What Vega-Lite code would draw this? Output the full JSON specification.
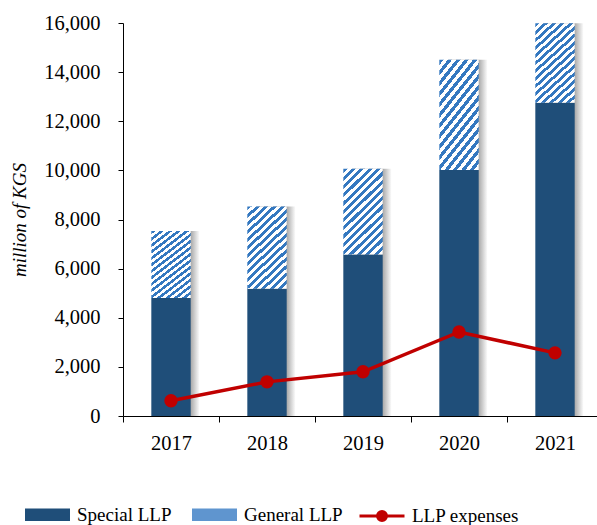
{
  "$schema": "https://vega.github.io/schema/vega-lite/v6.json",
  "width": 480,
  "height": 393,
  "autosize": {"type": "none"},
  "padding": {"left": 123, "top": 23, "right": -6, "bottom": 109},
  "background": "#ffffff",
  "config": {
    "view": {"stroke": null},
    "font": "Liberation Serif",
    "style": {"guide-label": {"font": "Liberation Serif"}, "guide-title": {"font": "Liberation Serif"}},
    "axis": {"labelFont": "Liberation Serif", "titleFont": "Liberation Serif", "labelColor": "#000000", "titleColor": "#000000", "domainColor": "#000000", "tickColor": "#000000", "grid": false},
    "legend": {"labelFont": "Liberation Serif", "labelColor": "#000000", "labelFontSize": 19}
  },
  "data": {
    "values": [
      {"year": 2017, "series": "Special LLP", "value": 4800},
      {"year": 2017, "series": "General LLP", "value": 2730},
      {"year": 2017, "series": "LLP expenses", "value": 620},
      {"year": 2018, "series": "Special LLP", "value": 5180},
      {"year": 2018, "series": "General LLP", "value": 3350},
      {"year": 2018, "series": "LLP expenses", "value": 1390},
      {"year": 2019, "series": "Special LLP", "value": 6580},
      {"year": 2019, "series": "General LLP", "value": 3490},
      {"year": 2019, "series": "LLP expenses", "value": 1800},
      {"year": 2020, "series": "Special LLP", "value": 10020},
      {"year": 2020, "series": "General LLP", "value": 4480},
      {"year": 2020, "series": "LLP expenses", "value": 3420},
      {"year": 2021, "series": "Special LLP", "value": 12750},
      {"year": 2021, "series": "General LLP", "value": 3240},
      {"year": 2021, "series": "LLP expenses", "value": 2570}
    ]
  },
  "encoding": {
    "x": {
      "field": "year", "type": "ordinal",
      "scale": {"paddingInner": 0, "paddingOuter": 0},
      "axis": {"title": null, "labelAngle": 0, "labelFontSize": 20.5, "labelPadding": 11, "tickBand": "extent", "tickSize": 6, "domainWidth": 1, "tickWidth": 1}
    }
  },
  "layer": [
    {
      "transform": [{"filter": "datum.series !== 'LLP expenses'"}],
      "mark": {
        "type": "bar", "width": {"band": 0.41}, "xOffset": 9,
        "fill": {"gradient": "linear", "x1": 0, "y1": 0, "x2": 1, "y2": 0,
          "stops": [{"offset": 0, "color": "#999999"}, {"offset": 0.77, "color": "#a8a8a8"}, {"offset": 1, "color": "#ffffff"}]}
      },
      "encoding": {
        "y": {"aggregate": "sum", "field": "value", "type": "quantitative", "scale": {"domain": [0, 16000], "nice": false},
          "axis": {"title": "million of KGS", "titleFontStyle": "italic", "titleFontWeight": "normal", "titleFontSize": 19, "titlePadding": 14,
            "values": [0, 2000, 4000, 6000, 8000, 10000, 12000, 14000, 16000], "format": ",.0f", "labelFontSize": 20.5, "labelPadding": 18, "tickSize": 5}}
      }
    },
    {
      "transform": [{"filter": "datum.series !== 'LLP expenses'"}],
      "mark": {"type": "bar", "width": {"band": 0.41}},
      "encoding": {
        "y": {"field": "value", "type": "quantitative", "stack": "zero"},
        "order": {"field": "series", "sort": "descending"},
        "fill": {
          "field": "series", "type": "nominal",
          "condition": {"test": "datum.series === 'General LLP'", "value": {"gradient": "linear", "x1": 0, "y1": 0, "x2": 0.54, "y2": 1.2,
            "stops": [
              {"offset": 0, "color": "#3478c0"}, {"offset": 0.0333, "color": "#3478c0"}, {"offset": 0.0333, "color": "#ffffff"}, {"offset": 0.0667, "color": "#ffffff"},
              {"offset": 0.0667, "color": "#3478c0"}, {"offset": 0.1, "color": "#3478c0"}, {"offset": 0.1, "color": "#ffffff"}, {"offset": 0.1333, "color": "#ffffff"},
              {"offset": 0.1333, "color": "#3478c0"}, {"offset": 0.1667, "color": "#3478c0"}, {"offset": 0.1667, "color": "#ffffff"}, {"offset": 0.2, "color": "#ffffff"},
              {"offset": 0.2, "color": "#3478c0"}, {"offset": 0.2333, "color": "#3478c0"}, {"offset": 0.2333, "color": "#ffffff"}, {"offset": 0.2667, "color": "#ffffff"},
              {"offset": 0.2667, "color": "#3478c0"}, {"offset": 0.3, "color": "#3478c0"}, {"offset": 0.3, "color": "#ffffff"}, {"offset": 0.3333, "color": "#ffffff"},
              {"offset": 0.3333, "color": "#3478c0"}, {"offset": 0.3667, "color": "#3478c0"}, {"offset": 0.3667, "color": "#ffffff"}, {"offset": 0.4, "color": "#ffffff"},
              {"offset": 0.4, "color": "#3478c0"}, {"offset": 0.4333, "color": "#3478c0"}, {"offset": 0.4333, "color": "#ffffff"}, {"offset": 0.4667, "color": "#ffffff"},
              {"offset": 0.4667, "color": "#3478c0"}, {"offset": 0.5, "color": "#3478c0"}, {"offset": 0.5, "color": "#ffffff"}, {"offset": 0.5333, "color": "#ffffff"},
              {"offset": 0.5333, "color": "#3478c0"}, {"offset": 0.5667, "color": "#3478c0"}, {"offset": 0.5667, "color": "#ffffff"}, {"offset": 0.6, "color": "#ffffff"},
              {"offset": 0.6, "color": "#3478c0"}, {"offset": 0.6333, "color": "#3478c0"}, {"offset": 0.6333, "color": "#ffffff"}, {"offset": 0.6667, "color": "#ffffff"},
              {"offset": 0.6667, "color": "#3478c0"}, {"offset": 0.7, "color": "#3478c0"}, {"offset": 0.7, "color": "#ffffff"}, {"offset": 0.7333, "color": "#ffffff"},
              {"offset": 0.7333, "color": "#3478c0"}, {"offset": 0.7667, "color": "#3478c0"}, {"offset": 0.7667, "color": "#ffffff"}, {"offset": 0.8, "color": "#ffffff"},
              {"offset": 0.8, "color": "#3478c0"}, {"offset": 0.8333, "color": "#3478c0"}, {"offset": 0.8333, "color": "#ffffff"}, {"offset": 0.8667, "color": "#ffffff"},
              {"offset": 0.8667, "color": "#3478c0"}, {"offset": 0.9, "color": "#3478c0"}, {"offset": 0.9, "color": "#ffffff"}, {"offset": 0.9333, "color": "#ffffff"},
              {"offset": 0.9333, "color": "#3478c0"}, {"offset": 0.9667, "color": "#3478c0"}, {"offset": 0.9667, "color": "#ffffff"}, {"offset": 1, "color": "#ffffff"}
            ]}},
          "scale": {"domain": ["Special LLP", "General LLP"], "range": ["#1f4e79", "#5f95cf"]},
          "legend": {
            "orient": "none", "legendX": -98, "legendY": 469, "direction": "horizontal", "title": null,
            "symbolType": "M-1,-0.28H1V0.28H-1Z", "symbolSize": 2025, "symbolStrokeWidth": 0,
            "labelFont": "Liberation Serif", "labelColor": "#000000", "labelFontSize": 19, "labelOffset": 7, "columnPadding": 20
          }
        }
      }
    },
    {
      "transform": [{"filter": "datum.series === 'LLP expenses'"}],
      "mark": {"type": "line", "strokeWidth": 3.5, "point": {"filled": true, "size": 130, "fill": "#c00000", "stroke": null}},
      "encoding": {
        "y": {"field": "value", "type": "quantitative"},
        "stroke": {
          "field": "series", "type": "nominal",
          "scale": {"domain": ["LLP expenses"], "range": ["#c00000"]},
          "legend": {
            "orient": "none", "legendX": 235, "legendY": 469, "direction": "horizontal", "title": null,
            "symbolType": "M-1,0H1M0.2,0A0.2,0.2 0 1 1 -0.2,0A0.2,0.2 0 1 1 0.2,0Z", "symbolSize": 2025, "symbolStrokeWidth": 3,
            "symbolFillColor": "#c00000", "labelFont": "Liberation Serif", "labelColor": "#000000", "labelFontSize": 19, "labelOffset": 6
          }
        }
      }
    }
  ],
  "resolve": {"scale": {"y": "shared"}}
}
